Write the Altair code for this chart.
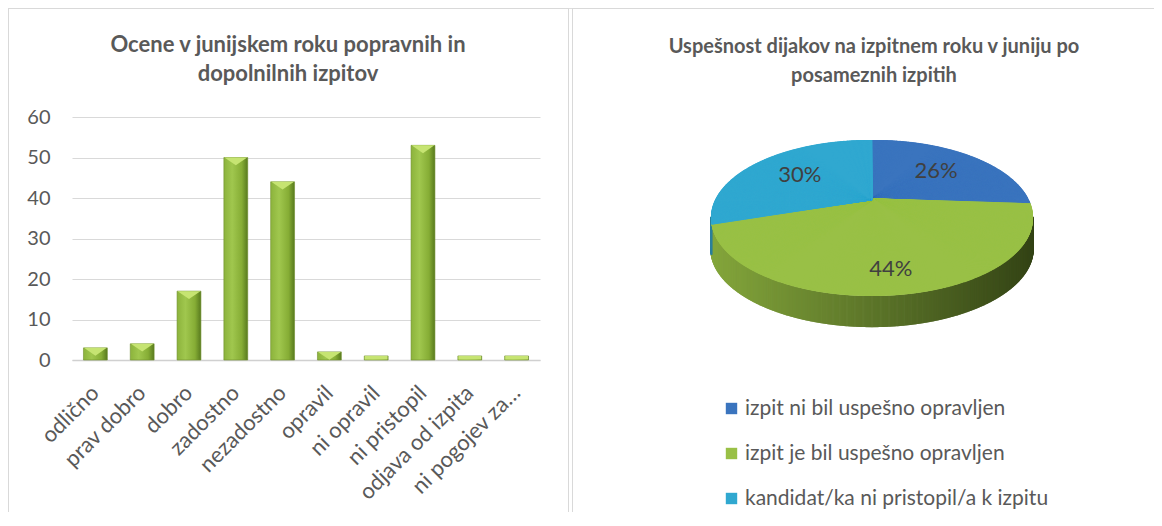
import altair as alt
import numpy as np

# ---------------- data ----------------
bar_categories = ["odlično", "prav dobro", "dobro", "zadostno", "nezadostno",
                  "opravil", "ni opravil", "ni pristopil", "odjava od izpita", "ni pogojev za…"]
bar_values = [3, 4, 17, 50, 44, 2, 1, 53, 1, 1]

pie_labels = ["izpit ni bil uspešno opravljen",
              "izpit je bil uspešno opravljen",
              "kandidat/ka ni pristopil/a k izpitu"]
pie_values = [26, 44, 30]
pie_colors = ["#3a74be", "#99c046", "#30a8d0"]

title_left = ["Ocene v junijskem roku popravnih in", "dopolnilnih izpitov"]
title_right = ["Uspešnost dijakov na izpitnem roku v juniju po", "posameznih izpitih"]

FONT = "Lato"
GREY = "#595959"
W, H = 1146, 504

bar_data = alt.Data(values=[{"cat": c, "v": v} for c, v in zip(bar_categories, bar_values)])
pie_data = alt.Data(values=[{"label": l, "val": v, "i": i} for i, (l, v) in enumerate(zip(pie_labels, pie_values))])

# ---------------- bar chart ----------------
xs = alt.Scale(domain=bar_categories, range=[64, 532], paddingInner=0.49, paddingOuter=0.245)
ys = alt.Scale(domain=[0, 60], range=[352, 109], nice=False, zero=True)

x_axis = alt.Axis(labelAngle=-45, labelAlign="right", labelBaseline="middle",
                  labelFontSize=22, labelColor=GREY, labelFont=FONT,
                  labelPadding=29, ticks=False, tickSize=0, domain=True,
                  domainColor="#d0d0d0", domainWidth=1.5, grid=False,
                  offset=352 - H, labelOverlap=False, labelLimit=300)
y_axis = alt.Axis(values=[0, 10, 20, 30, 40, 50, 60], grid=True, gridColor="#d9d9d9",
                  gridWidth=1, domain=False, ticks=False, tickSize=0,
                  labelFontSize=20, labelColor=GREY, labelFont=FONT,
                  labelPadding=22, offset=-64)

bar_grad = alt.Gradient(gradient="linear", x1=0, x2=1, y1=0, y2=0,
                        stops=[alt.GradientStop(color="#8cb33c", offset=0),
                               alt.GradientStop(color="#a0c74e", offset=0.35),
                               alt.GradientStop(color="#86ad35", offset=0.75),
                               alt.GradientStop(color="#587a1e", offset=1)])

bars = alt.Chart(bar_data).mark_bar(color=bar_grad, stroke="#6f8f2c", strokeWidth=0.6).encode(
    x=alt.X("cat:N", sort=bar_categories, scale=xs, title=None, axis=x_axis),
    y=alt.Y("v:Q", scale=ys, title=None, axis=y_axis),
)
caps = alt.Chart(bar_data).transform_calculate(
    shp="datum.v >= 2 ? 'M-0.95,0L0.95,0L0,0.65Z' : 'M-0.95,0L0.95,0L0.95,0.3L-0.95,0.3Z'"
).mark_point(filled=True, color="#c6e472", opacity=1, size=576).encode(
    x=alt.X("cat:N", sort=bar_categories, scale=xs, title=None, axis=x_axis),
    y=alt.Y("v:Q", scale=ys, title=None, axis=y_axis),
    shape=alt.Shape("shp:N", scale=None),
)
bar_layer = alt.layer(bars, caps)

# ---------------- pie chart (tilted, with perspective) ----------------
px = alt.Scale(domain=[-1, 1], range=[703, 1025], nice=False, zero=False)
py = alt.Scale(domain=[-1, 1], range=[288, 132], nice=False, zero=False)
DEPTH = 0.40   # wall height (in ellipse half-heights)
K = 0.24       # perspective strength

cum = np.cumsum(pie_values) / np.sum(pie_values) * 360.0
cat_expr = (f"datum.deg < {cum[0]:.3f} ? '{pie_labels[0]}' : "
            f"datum.deg < {cum[1]:.3f} ? '{pie_labels[1]}' : '{pie_labels[2]}'")

angles = alt.sequence(0, 360, 0.25, as_="deg")

base_pie = alt.Chart(angles).transform_calculate(
    rad="datum.deg * PI / 180",
    pu="sin(datum.rad)",
    pv="cos(datum.rad)",
    den=f"1 + {K} * datum.pv",
    xn=f"datum.pu * sqrt(1 - {K}*{K}) / datum.den",
    yn=f"datum.pv * (1 - {K}*{K}) / datum.den + {K}",
    zx="0",
    zy=f"{K}",
    cat=cat_expr,
)

wall = base_pie.transform_filter("datum.yn < 0.02").transform_calculate(
    ynb="datum.yn - " + str(DEPTH),
    t="(datum.xn + 1) / 2",
    wcol=(f"datum.cat == '{pie_labels[1]}' ? "
          "'rgb(' + round(132 - 80*datum.t) + ',' + round(166 - 98*datum.t) + ',' + round(60 - 38*datum.t) + ')' : "
          f"datum.cat == '{pie_labels[0]}' ? '#24456f' : '#2a7f9c'"),
).mark_rule(strokeWidth=1.6).encode(
    x=alt.X("xn:Q", scale=px, axis=None),
    y=alt.Y("yn:Q", scale=py, axis=None),
    y2="ynb:Q",
    stroke=alt.Stroke("wcol:N", scale=None, legend=None),
)

top = base_pie.mark_rule(strokeWidth=2).encode(
    x=alt.X("zx:Q", scale=px, axis=None),
    x2="xn:Q",
    y=alt.Y("zy:Q", scale=py, axis=None),
    y2="yn:Q",
    stroke=alt.Stroke("cat:N", scale=alt.Scale(domain=pie_labels, range=pie_colors), legend=None),
)

legend_pts = alt.Chart(pie_data).transform_calculate(zx="0", zy=f"{K}").mark_square(size=1, opacity=1).encode(
    x=alt.X("zx:Q", scale=px, axis=None),
    y=alt.Y("zy:Q", scale=py, axis=None),
    fill=alt.Fill("label:N", scale=alt.Scale(domain=pie_labels, range=pie_colors),
                  sort=pie_labels,
                  legend=alt.Legend(title=None, orient="none", legendX=713, legendY=390,
                                    direction="vertical", symbolType="square", symbolSize=130,
                                    symbolStrokeWidth=0, labelFontSize=21, labelFont=FONT,
                                    labelColor=GREY, labelOffset=3, rowPadding=23,
                                    padding=0, labelLimit=400)),
)

pie_text = alt.Chart(pie_data).transform_joinaggregate(
    total="sum(val)"
).transform_window(
    cumv="sum(val)", sort=[alt.SortField("i")]
).transform_calculate(
    mid="(datum.cumv - datum.val / 2) / datum.total * 2 * PI",
    rr="cos(datum.mid) < 0 ? 0.78 : 0.62",
    pu="datum.rr * sin(datum.mid)",
    pv="datum.rr * cos(datum.mid)",
    den=f"1 + {K} * datum.pv",
    lx=f"datum.pu * sqrt(1 - {K}*{K}) / datum.den",
    ly=f"datum.pv * (1 - {K}*{K}) / datum.den + {K}",
    pct="format(datum.val / datum.total, '.0%')",
).mark_text(fontSize=22, font=FONT, color="#404040", baseline="middle", align="center").encode(
    x=alt.X("lx:Q", scale=px, axis=None),
    y=alt.Y("ly:Q", scale=py, axis=None),
    text="pct:N",
)

pie_layer = alt.layer(legend_pts, wall, top, pie_text)

# ---------------- titles & frames ----------------
one = alt.Data(values=[{}])


def title_marks(lines, cx, y0, size):
    out = []
    for k, line in enumerate(lines):
        out.append(alt.Chart(one).mark_text(text=line, fontSize=size, fontWeight="bold", font=FONT,
                                             color=GREY, align="center", baseline="middle").encode(
            x=alt.value(cx), y=alt.value(y0 + 29 * k)))
    return out


frame_col = "#d9d9d9"
frames = [
    alt.Chart(one).mark_rule(color=frame_col, strokeWidth=1).encode(x=alt.value(0.5), y=alt.value(0), y2=alt.value(H)),
    alt.Chart(one).mark_rule(color=frame_col, strokeWidth=1).encode(x=alt.value(0), x2=alt.value(560.5), y=alt.value(0.5)),
    alt.Chart(one).mark_rule(color=frame_col, strokeWidth=1).encode(x=alt.value(560.5), y=alt.value(0), y2=alt.value(H)),
    alt.Chart(one).mark_rule(color=frame_col, strokeWidth=1).encode(x=alt.value(564.5), y=alt.value(0), y2=alt.value(H)),
    alt.Chart(one).mark_rule(color=frame_col, strokeWidth=1).encode(x=alt.value(564.5), x2=alt.value(W), y=alt.value(0.5)),
]

chart = alt.layer(
    bar_layer, pie_layer,
    *frames,
    *title_marks(title_left, 280, 37, 22),
    *title_marks(title_right, 866, 39, 20),
).resolve_scale(
    x="independent", y="independent", stroke="independent"
).properties(
    width=W, height=H, padding=0, autosize=alt.AutoSizeParams(type="none")
).configure_view(stroke=None).configure(background="white")

chart.save("out.html", embed_options={"renderer": "svg", "actions": False})
